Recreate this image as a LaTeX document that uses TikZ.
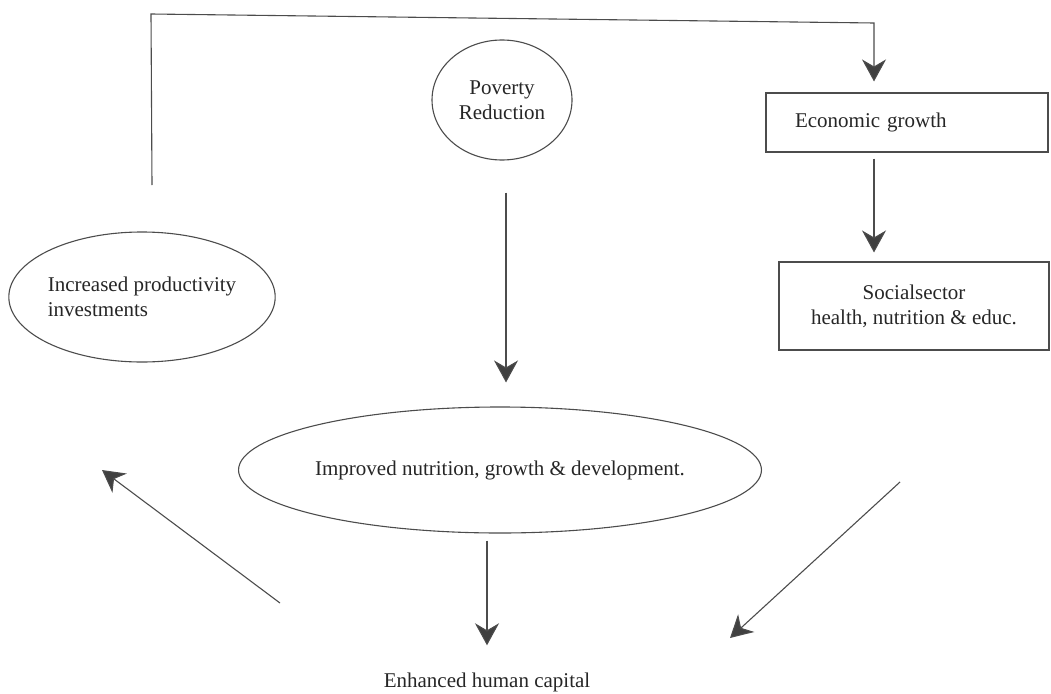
\documentclass[tikz,border=0pt]{standalone}
\usepackage{fontspec}
\setmainfont{Liberation Serif}
\usetikzlibrary{arrows.meta,shapes.geometric}
\begin{document}
\begin{tikzpicture}[x=1pt,y=-1pt,
  txt/.style={font=\fontsize{21}{25}\selectfont, text=black!85},
  line/.style={draw=black!70, line width=1.1pt},
  arr/.style={line, -{Stealth[length=22pt,width=24pt,inset=7pt,fill=black!75]}},
  ell/.style={ellipse, draw=black!70, line width=1.1pt, inner sep=0pt, txt},
  box/.style={rectangle, draw=black!70, line width=1.1pt, inner sep=0pt, txt}]
\useasboundingbox (0,0) rectangle (1051,693);
% nodes
\node[ell, minimum width=140pt, minimum height=120pt, align=center] (pov) at (502,100) {Poverty\\Reduction};
\node[box, minimum width=282pt, minimum height=59pt, text width=224pt, align=left] (econ) at (907,122.5) {Economic growth};
\node[box, minimum width=270pt, minimum height=88pt, align=center] (soc) at (914,306) {Socialsector\\health, nutrition \& educ.};
\node[ell, minimum width=258pt, minimum height=130pt, align=left] (inc) at (142,297) {Increased productivity\\investments};
\node[ell, minimum width=446pt, minimum height=126pt] (imp) at (500,470) {Improved nutrition, growth \& development.};
\node[txt, inner sep=0pt] (enh) at (487,682) {Enhanced human capital};
% free coordinates
\coordinate (topstart) at (152,185);
\coordinate (c1) at (151,14);
\coordinate (c2) at (874,23);
\coordinate (rdA) at (900,482);
\coordinate (rdB) at (730,638);
\coordinate (ldA) at (280,603);
\coordinate (ldB) at (102,470);
% connectors
\draw[arr] (topstart) -- (c1) -- (c2) -- ([xshift=-33pt,yshift=11pt]econ.north);
\draw[arr] ([xshift=-33pt,yshift=-6pt]econ.south) -- ([xshift=-40pt,yshift=9pt]soc.north);
\draw[arr] ([xshift=4pt,yshift=-32pt]pov.south) -- ([xshift=6pt,yshift=24pt]imp.north);
\draw[arr] ([xshift=-13pt,yshift=-7pt]imp.south) -- ([yshift=27pt]enh.north);
\draw[arr] (rdA) -- (rdB);
\draw[arr] (ldA) -- (ldB);
\end{tikzpicture}
\end{document}
